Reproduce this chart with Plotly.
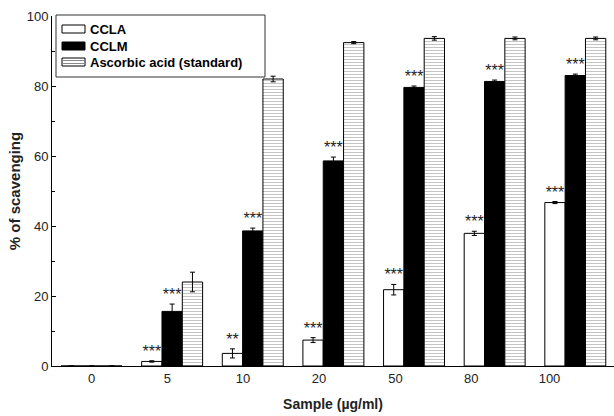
import plotly.graph_objects as go

categories = ["0", "5", "10", "20", "50", "80", "100"]
series_names = ["CCLA", "CCLM", "Ascorbic acid (standard)"]
ccla = [0, 1.3, 3.6, 7.4, 21.8, 37.9, 46.7]
ccla_err = [0, 0.2, 1.3, 0.7, 1.5, 0.6, 0.3]
cclm = [0, 15.6, 38.6, 58.6, 79.6, 81.3, 83.0]
cclm_err = [0, 2.1, 0.8, 1.1, 0.4, 0.4, 0.4]
asc = [0, 24.0, 82.0, 92.4, 93.6, 93.6, 93.6]
asc_err = [0, 2.8, 0.8, 0.3, 0.5, 0.4, 0.4]
ccla_sig = ["", "***", "**", "***", "***", "***", "***"]
cclm_sig = ["", "***", "***", "***", "***", "***", "***"]

# label positions in the source drift slightly left of the bar groups
tick_pos = [0, 0.94, 1.88, 2.82, 3.77, 4.71, 5.68]

FONT = "Liberation Sans, Arial, sans-serif"
xs = list(range(len(categories)))
HATCH = "#8a8a8a"

fig = go.Figure()

def add_bar(name, vals, errs, fill, group, pattern=None):
    fig.add_trace(go.Bar(
        x=xs, y=vals, name=name, offsetgroup=group, showlegend=False,
        marker=dict(color=fill, line=dict(color="black", width=1),
                    pattern=pattern),
        error_y=dict(type="data", array=errs, color="black",
                     thickness=1, width=2.5, visible=True),
    ))

add_bar(series_names[0], ccla, ccla_err, "white", "a")
add_bar(series_names[1], cclm, cclm_err, "black", "b")
add_bar(series_names[2], asc, asc_err, "white", "c",
        pattern=dict(shape="-", fgcolor=HATCH, bgcolor="white",
                     size=3, solidity=0.35))

def add_sig(vals, errs, texts, group):
    fig.add_trace(go.Scatter(
        x=xs, y=[v + e for v, e in zip(vals, errs)], text=texts,
        mode="text", textposition="top center", offsetgroup=group,
        textfont=dict(family=FONT, size=16, color="#222"),
        showlegend=False, hoverinfo="skip",
    ))

add_sig(ccla, ccla_err, ccla_sig, "a")
add_sig(cclm, cclm_err, cclm_sig, "b")
fig.add_trace(go.Scatter(x=xs, y=[None] * len(xs), mode="text",
                         offsetgroup="c", showlegend=False, hoverinfo="skip"))

# ---- hand-drawn legend (plot area: x 52..614 px, y 16..366 px) ----
PL, PW, PB, PH = 52, 562, 366, 350
def px(x):
    return (x - PL) / PW
def py(y):
    return (PB - y) / PH

shapes = [dict(type="rect", xref="paper", yref="paper",
               x0=px(56), x1=px(265), y0=py(77), y1=py(15),
               fillcolor="white", line=dict(color="#333", width=1))]
row_y = [29, 46, 62]
fills = ["white", "black", "white"]
for ry, fc in zip(row_y, fills):
    shapes.append(dict(type="rect", xref="paper", yref="paper",
                       x0=px(62), x1=px(85), y0=py(ry + 4), y1=py(ry - 4),
                       fillcolor=fc, line=dict(color="black", width=1)))
for ly in (row_y[2] - 1.5, row_y[2] + 1.5):
    shapes.append(dict(type="line", xref="paper", yref="paper",
                       x0=px(63), x1=px(84), y0=py(ly), y1=py(ly),
                       line=dict(color=HATCH, width=1)))
annotations = [dict(xref="paper", yref="paper", x=px(88), y=py(ry),
                    xanchor="left", yanchor="middle", showarrow=False,
                    text="<b>%s</b>" % nm,
                    font=dict(family=FONT, size=13, color="black"))
               for ry, nm in zip(row_y, series_names)]

fig.update_layout(
    width=614, height=416,
    margin=dict(l=52, r=0, t=16, b=50),
    paper_bgcolor="white", plot_bgcolor="white",
    barmode="group", bargap=0.244, bargroupgap=0,
    scattermode="group", scattergap=0.244,
    font=dict(family=FONT, size=13, color="#222"),
    showlegend=False,
    shapes=shapes, annotations=annotations,
)
fig.update_xaxes(
    range=[-0.49, 6.48], tickmode="array", tickvals=tick_pos,
    ticktext=categories, showgrid=False, zeroline=False,
    showline=True, linecolor="black", linewidth=1, ticks="",
    tickfont=dict(size=13, color="#222"),
    title=dict(text="Sample (µg/ml)", font=dict(size=14, weight="bold", color="#222"),
               standoff=14),
)
fig.update_yaxes(
    range=[0, 100], dtick=20, showgrid=False, zeroline=False,
    showline=True, linecolor="black", linewidth=1,
    ticks="inside", ticklen=4, tickcolor="black",
    minor=dict(dtick=10, ticks="inside", ticklen=3, tickcolor="black"),
    tickfont=dict(size=13, color="#222"),
    title=dict(text="% of scavenging", font=dict(size=15, weight="bold", color="#222"),
               standoff=2),
)

fig.write_html("out.html")
